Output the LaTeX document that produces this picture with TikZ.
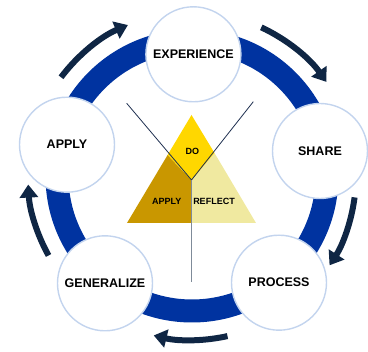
\documentclass[tikz,border=0pt]{standalone}
\usepackage{fontspec}
\setmainfont{Liberation Sans}
\usetikzlibrary{arrows.meta}
\definecolor{ringblue}{HTML}{0033A0}
\definecolor{navy}{HTML}{0F2644}
\definecolor{edgeblue}{HTML}{C3D4EE}
\definecolor{dogold}{HTML}{FFD700}
\definecolor{applygold}{HTML}{C99700}
\definecolor{reflectyel}{HTML}{F0E9A0}
\definecolor{stemgray}{HTML}{7F8B99}
\definecolor{yline}{HTML}{1F3050}
\tikzset{
  stage/.style={circle,draw=edgeblue,line width=1.4pt,fill=white,minimum size=95pt,inner sep=0pt,font=\fontsize{12.5}{14}\selectfont\bfseries},
  tlabel/.style={inner sep=0pt,font=\fontsize{9}{10}\selectfont\bfseries},
  cyclearrow/.style={navy,line width=6pt,-{Triangle[width=18pt,length=13pt]}},
}
\begin{document}
\begin{tikzpicture}[x=1pt,y=1pt]
\useasboundingbox (0,0) rectangle (368,352);
\coordinate (c) at (192,176);
% ring
\draw[ringblue,line width=23pt] (c) circle[radius=135];
% arrows
\draw[cyclearrow] (c) ++(143:164) arc[start angle=143,end angle=113,radius=164];
\draw[cyclearrow] (c) ++(65:164) arc[start angle=65,end angle=35,radius=164];
\draw[cyclearrow] (c) ++(-7.5:164) arc[start angle=-7.5,end angle=-33,radius=164];
\draw[cyclearrow] (c) ++(-77.5:164) arc[start angle=-77.5,end angle=-103.5,radius=164];
\draw[cyclearrow] (c) ++(-151:164) arc[start angle=-151,end angle=-177,radius=164];
% stages
\node[stage] (exp) at (193.4,297.7) {EXPERIENCE};
\node[stage] (share) at (320,201) {SHARE};
\node[stage] (proc) at (279,69.3) {PROCESS};
\node[stage] (gen) at (105,68.7) {GENERALIZE};
\node[stage] (app) at (67,207.3) {APPLY};
% triangle
\coordinate (apex) at (191.5,237);
\coordinate (bl) at (127,129);
\coordinate (br) at (256,129);
\coordinate (lp) at (167.6,197);
\coordinate (rp) at (214.5,199);
\coordinate (mid) at (191.5,172);
\coordinate (bm) at (191.5,129);
\fill[applygold] (lp) -- (mid) -- (bm) -- (bl) -- cycle;
\fill[reflectyel] (rp) -- (br) -- (bm) -- (mid) -- cycle;
\fill[dogold] (apex) -- (rp) -- (mid) -- (lp) -- cycle;
\coordinate (yl) at (126.7,248.7);
\coordinate (yr) at (253.3,250.3);
\coordinate (ybot) at (191.5,70.3);
\draw[yline,line width=0.8pt] (yl) -- (mid) -- (yr);
\draw[stemgray,line width=1.5pt] (mid) -- (ybot);
\node[tlabel] (do) at (192.3,201) {DO};
\node[tlabel] (tapp) at (166.7,150.3) {APPLY};
\node[tlabel] (tref) at (214,150.3) {REFLECT};
\end{tikzpicture}
\end{document}
